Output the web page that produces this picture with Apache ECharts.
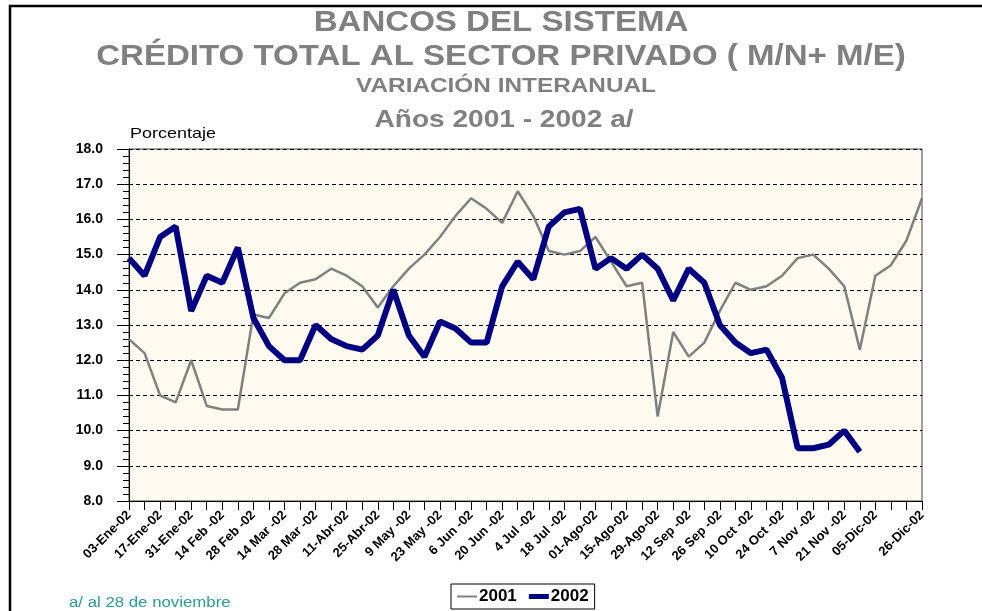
<!DOCTYPE html>
<html>
<head>
<meta charset="utf-8">
<script src="https://cdn.jsdelivr.net/npm/echarts@6/dist/echarts.min.js"></script>
<style>
  html, body { margin: 0; padding: 0; background: #fff; }
  #chart { width: 982px; height: 611px; }
</style>
</head>
<body>
<div id="chart"></div>
<script>
// Semanas del año (eje de categorías)
const semanas = [
  '03-Ene-02', '10-Ene-02', '17-Ene-02', '24-Ene-02', '31-Ene-02',
  '7 Feb -02', '14 Feb -02', '21 Feb -02', '28 Feb -02',
  '7 Mar -02', '14 Mar -02', '21 Mar -02', '28 Mar -02',
  '04-Abr-02', '11-Abr-02', '18-Abr-02', '25-Abr-02',
  '2 May -02', '9 May -02', '16 May -02', '23 May -02', '30 May -02',
  '6 Jun -02', '13 Jun -02', '20 Jun -02', '27 Jun -02',
  '4 Jul -02', '11 Jul -02', '18 Jul -02', '25 Jul -02',
  '01-Ago-02', '08-Ago-02', '15-Ago-02', '22-Ago-02', '29-Ago-02',
  '5 Sep -02', '12 Sep -02', '19 Sep -02', '26 Sep -02',
  '3 Oct -02', '10 Oct -02', '17 Oct -02', '24 Oct -02', '31 Oct -02',
  '7 Nov -02', '14 Nov -02', '21 Nov -02', '28 Nov -02',
  '05-Dic-02', '12-Dic-02', '19-Dic-02', '26-Dic-02'
];

// Variación interanual (%)
const serie2001 = [
  12.6, 12.2, 11.0, 10.8, 12.0, 10.7, 10.6, 10.6, 13.3, 13.2,
  13.9, 14.2, 14.3, 14.6, 14.4, 14.1, 13.5, 14.1, 14.6, 15.0,
  15.5, 16.1, 16.6, 16.3, 15.9, 16.8, 16.1, 15.1, 15.0, 15.1,
  15.5, 14.8, 14.1, 14.2, 10.4, 12.8, 12.1, 12.5, 13.4, 14.2,
  14.0, 14.1, 14.4, 14.9, 15.0, 14.6, 14.1, 12.3, 14.4, 14.7,
  15.4, 16.6
];
const serie2002 = [
  14.9, 14.4, 15.5, 15.8, 13.4, 14.4, 14.2, 15.2, 13.2, 12.4,
  12.0, 12.0, 13.0, 12.6, 12.4, 12.3, 12.7, 14.0, 12.7, 12.1,
  13.1, 12.9, 12.5, 12.5, 14.1, 14.8, 14.3, 15.8, 16.2, 16.3,
  14.6, 14.9, 14.6, 15.0, 14.6, 13.7, 14.6, 14.2, 13.0, 12.5,
  12.2, 12.3, 11.5, 9.5, 9.5, 9.6, 10.0, 9.4
];

// Eje Y
const ejeYMin = 8;
const ejeYMax = 18;
const ejeYPaso = 1;

const fuente = "'Liberation Sans', Arial, sans-serif";
const gris = '#808080';
const azul = '#000080';

const chart = echarts.init(document.getElementById('chart'));

// titulos con algo de estiramiento horizontal como en el original
const titulo = (texto, x, y, size, sx) => ({
  type: 'text',
  x: x,
  y: y,
  scaleX: sx,
  style: {
    text: texto,
    font: 'bold ' + size + 'px ' + fuente,
    fill: gris,
    align: 'center',
    verticalAlign: 'middle'
  }
});

// iconos de leyenda: barra fina / gruesa dentro de una caja de 20x10
const iconoFino = 'path://M0,0 M0,4 L20,4 L20,6 L0,6 Z M20,10';
const iconoGrueso = 'path://M0,0 M0,2.5 L20,2.5 L20,7.5 L0,7.5 Z M20,10';

const option = {
  animation: false,
  backgroundColor: '#ffffff',
  graphic: [
    {
      type: 'polyline',
      shape: { points: [[10, 611], [10, 6], [982, 6]] },
      style: { stroke: '#000', lineWidth: 2.5, fill: null }
    },
    titulo('BANCOS DEL SISTEMA', 501, 23, 29, 1.14),
    titulo('CRÉDITO TOTAL AL SECTOR PRIVADO ( M/N+ M/E)', 501, 57, 29, 1.14),
    titulo('VARIACIÓN INTERANUAL', 506, 86, 21, 1.16),
    titulo('Años 2001 - 2002 a/', 504, 120, 24, 1.17),
    {
      type: 'text',
      x: 130,
      y: 134,
      scaleX: 1.2,
      style: {
        text: 'Porcentaje',
        font: '15px ' + fuente,
        fill: '#000',
        verticalAlign: 'middle'
      }
    },
    {
      type: 'text',
      x: 69,
      y: 603,
      scaleX: 1.2,
      style: {
        text: 'a/ al 28 de noviembre',
        font: '14px ' + fuente,
        fill: '#2f9a96',
        verticalAlign: 'middle'
      }
    }
  ],
  grid: {
    left: 129,
    right: 60,
    top: 149,
    bottom: 110,
    show: true,
    backgroundColor: '#fffaef',
    borderColor: '#444',
    borderWidth: 1
  },
  legend: {
    left: 451,
    top: 584,
    padding: [4, 6, 4, 6],
    itemGap: 12,
    itemWidth: 20,
    itemHeight: 10,
    borderColor: '#000',
    borderWidth: 1,
    backgroundColor: '#fff',
    itemStyle: { borderWidth: 0 },
    data: [
      { name: '2001', icon: iconoFino },
      { name: '2002', icon: iconoGrueso }
    ],
    textStyle: {
      fontFamily: fuente,
      fontWeight: 'bold',
      fontSize: 17,
      color: '#000',
      padding: [0, 0, 0, -3]
    }
  },
  xAxis: {
    type: 'category',
    data: semanas,
    boundaryGap: false,
    axisLine: { lineStyle: { color: '#000', width: 1 } },
    axisTick: { show: true, interval: 0, length: 9, lineStyle: { color: '#000' } },
    axisLabel: {
      rotate: 45,
      margin: 12,
      fontFamily: fuente,
      fontWeight: 'bold',
      fontSize: 13,
      color: '#000',
      interval: (i) => (i % 2 === 0 && i <= 48) || i === semanas.length - 1
    },
    splitLine: { show: false }
  },
  yAxis: {
    type: 'value',
    min: ejeYMin,
    max: ejeYMax,
    interval: ejeYPaso,
    axisLine: { show: true, lineStyle: { color: '#000', width: 1 } },
    axisTick: { show: true, length: 12, lineStyle: { color: '#000' } },
    minorTick: { show: true, splitNumber: 5, length: 6, lineStyle: { color: '#000' } },
    axisLabel: {
      margin: 26,
      fontFamily: fuente,
      fontWeight: 'bold',
      fontSize: 14,
      color: '#000',
      formatter: (v) => v.toFixed(1)
    },
    splitLine: {
      show: true,
      lineStyle: { color: '#000', type: [4, 3], width: 1 }
    }
  },
  series: [
    {
      name: '2001',
      type: 'line',
      data: serie2001,
      symbol: 'none',
      lineStyle: { color: gris, width: 2.5 },
      itemStyle: { color: gris }
    },
    {
      name: '2002',
      type: 'line',
      data: serie2002,
      symbol: 'none',
      lineStyle: { color: azul, width: 6 },
      itemStyle: { color: azul }
    }
  ]
};

chart.setOption(option);
</script>
</body>
</html>
